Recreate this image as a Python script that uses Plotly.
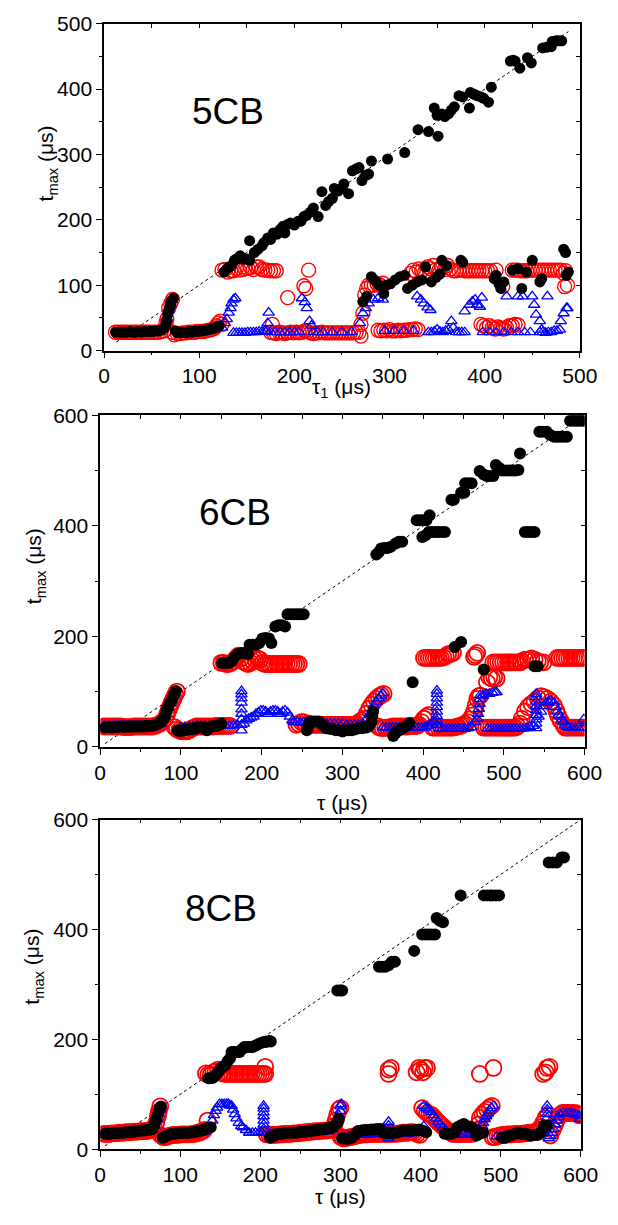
import plotly.graph_objects as go

# ---------------- DATA ----------------
# Panel 1: 5CB  (tau_1 [us], t_max [us])
black_5cb = [
    (12,28),(15,28),(18,28),(21,28),(24,28),(27,29),(30,28),(33,28),(36,29),(39,28),(42,29),(45,29),(48,29),(51,29),(54,30),(57,30),(60,31),(63,34),
    (65,40),(66,46),(67,55),(68,62),(69,66),(70,72),(71,76),(73,80),
    (75,30),(77,27),(80,28),(83,28),(86,27),(89,29),(92,28),(95,30),(98,29),(101,30),(104,30),(107,31),(110,32),(113,33),(116,34),(119,36),(121,38),
    (126,120),(129,125),(132,128),(134,130),(137,138),(139,140),(143,145),(146,140),(150,140),(153,138),(153,168),(158,150),(162,155),(166,160),(168,165),
    (172,172),(175,170),(178,180),(182,178),(185,185),(188,190),(190,180),(193,193),(196,195),(200,192),(204,198),(207,198),(210,205),(213,207),(217,212),
    (220,218),(225,205),(229,243),(233,222),(236,228),(240,233),(242,248),(246,244),(250,248),(252,255),(257,240),(261,275),(265,278),(268,280),(271,260),
    (275,268),(278,270),(281,290),(298,293),(316,303),(330,338),(341,335),(347,371),(350,360),(351,328),(355,362),(358,358),(362,362),(365,368),(368,373),
    (373,390),(377,388),(384,371),(385,395),(389,392),(392,390),(396,388),(399,386),(404,380),(407,403),(427,443),(430,444),(432,443),(437,432),(445,448),
    (449,440),(461,463),(465,464),(470,465),(471,473),(475,474),(478,474),(481,474),
    (272,75),(276,83),(281,113),(284,108),(286,105),(289,100),(294,87),(297,100),(301,102),(306,108),(311,113),(316,115),(319,95),(324,100),(329,105),
    (334,108),(338,128),(344,105),(349,112),(353,117),(355,138),(360,130),(375,138),(377,135),(410,110),(412,115),(415,102),(417,95),(420,105),(429,123),
    (435,125),(439,95),(444,120),(450,138),(458,105),(460,110),(483,155),(485,150),(486,115),(488,120),
]
red_5cb = [
    (12,28),(15,28),(18,28),(21,28),(24,28),(27,28),(30,28),(33,28),(36,28),(39,28),(42,28),(45,28),(48,28),(51,28),(54,28),(57,28),(60,29),(63,30),
    (65,42),(66,48),(68,65),(70,72),(72,78),
    (72,28),(74,24),(77,26),(80,26),(83,27),(86,27),(89,28),(92,28),(95,28),(98,29),(101,29),(104,29),(107,30),(110,31),(113,32),(116,34),(118,38),(120,42),(122,45),(124,40),
    (124,123),(127,124),(130,120),(133,122),(136,122),(139,125),(142,123),(145,124),(148,125),(151,126),(154,127),(157,124),(160,128),(163,128),(166,124),
    (169,123),(172,123),(175,122),(178,122),(181,122),
    (177,40),(193,81),(210,99),(212,95),(215,123),
    (175,28),(178,27),(181,26),(184,28),(187,27),(190,26),(193,27),(196,28),(199,27),(202,28),(205,27),(208,28),(211,30),(214,29),(217,27),(220,26),
    (223,27),(226,27),(229,28),(232,27),(235,27),(238,27),(241,27),(244,27),(247,27),(250,27),(253,27),(256,27),(259,27),(262,27),(265,28),(268,28),(270,22),
    (270,40),(272,57),(274,85),(276,95),(278,100),(281,100),(284,100),(287,102),(290,100),(293,103),
    (288,31),(291,30),(294,31),(297,30),(300,32),(303,30),(306,30),(309,31),(312,30),(315,31),(318,31),(321,32),(324,32),(327,33),(330,32),
    (322,118),(325,123),(328,120),(331,125),(334,122),(337,120),(340,128),(343,125),(346,130),(349,124),(352,123),(355,128),(358,124),(361,130),(364,125),
    (367,122),(370,122),(373,123),(376,123),(379,122),(382,122),(385,122),(388,122),(391,122),(394,122),(397,122),(400,122),(403,122),(406,122),
    (412,123),(419,98),
    (396,40),(399,38),(402,35),(405,38),(408,35),(411,33),(414,36),(417,34),(420,33),(423,35),(426,38),(429,38),(432,40),(435,39),
    (429,123),(432,123),(435,123),(438,122),(441,122),(444,122),(447,123),(450,123),(453,123),(456,123),(459,123),(462,123),(465,123),(468,123),(471,123),
    (474,123),(477,123),(480,123),(483,118),(485,122),(484,98),(487,100),
]
blue_5cb = [
    (64,40),(66,50),(68,62),(70,70),
    (124,35),(127,42),(129,48),(131,58),(133,65),(134,72),(136,78),(138,80),
    (136,27),(139,27),(142,27),(145,27),(148,27),(151,28),(154,28),(157,28),(160,28),(163,29),(166,29),(169,30),(171,30),(173,58),(172,42),
    (175,28),(180,28),(185,28),(190,28),(195,28),(200,28),(205,28),(208,80),(211,74),(213,65),(216,45),(218,38),(220,28),(225,28),(230,28),(240,28),(250,28),(260,28),
    (269,42),(272,57),(275,65),(278,72),(283,78),(288,80),(293,78),
    (295,30),(305,30),(315,30),(325,30),
    (329,83),(333,78),(336,72),(340,66),(343,62),
    (341,28),(344,28),(347,29),(350,32),(353,29),(356,28),(359,30),(362,32),(365,45),(367,35),(370,28),(373,28),(376,28),(379,28),
    (379,60),(384,70),(387,75),(392,70),(395,67),(397,81),(390,78),
    (398,28),(405,28),(412,28),(420,28),(428,28),(435,28),(442,28),(448,28),
    (423,83),(435,83),(440,83),(450,83),(452,70),(454,55),(458,45),(460,32),(466,83),
    (458,28),(461,28),(464,27),(467,28),(470,28),(473,30),(476,30),(479,32),
    (480,45),(483,57),(486,65),(487,65),
]

# Panel 2: 6CB
black_6cb = [
    (6,35),(9,36),(12,36),(15,35),(18,36),(21,36),(24,37),(27,37),(30,36),(33,37),(36,37),(39,37),(42,37),(45,37),(48,37),(51,37),(54,37),(57,38),(60,38),
    (63,38),(66,39),(69,40),(72,42),(75,45),
    (78,50),(80,55),(82,65),(84,72),(86,78),(88,83),(90,90),(92,96),(94,101),
    (96,30),(99,28),(102,30),(105,30),(108,31),(111,32),(114,32),(117,33),(120,35),(123,35),(126,36),(129,35),(132,30),(135,35),(138,37),(141,38),(144,38),(147,40),(150,42),
    (151,152),(155,152),(159,152),(163,155),(167,163),(171,168),(175,170),(179,170),(183,168),(185,185),(189,185),(193,185),(197,188),(201,196),(205,197),
    (209,196),(212,188),(217,218),(221,220),(225,220),(229,218),(232,240),(236,240),(240,240),(244,240),(248,240),(252,240),
    (342,348),(345,352),(348,359),(352,360),(356,360),(360,362),(366,368),(370,371),(374,371),(392,410),(396,410),(400,410),(404,410),(408,419),(399,380),
    (403,383),(407,389),(411,389),(415,389),(419,389),(423,389),(427,389),(435,447),(438,447),(447,460),(451,460),(452,477),(456,477),(460,477),(470,499),
    (475,493),(479,490),(483,490),(487,490),(490,510),(494,505),(498,500),(502,500),(506,500),(510,500),(514,500),(518,501),(520,531),(526,389),(530,389),
    (534,389),(538,389),(544,570),(548,570),(553,570),(557,565),(562,561),(566,561),(570,561),(574,561),(578,561),(582,590),(586,590),(590,590),(594,590),(598,590),
    (387,117),(475,140),(538,146),(542,146),(439,181),(447,190),
    (256,30),(258,38),(260,46),(264,46),(268,46),(271,46),(275,40),(280,34),(284,33),(288,32),(292,30),(296,30),(300,28),(304,30),(308,30),(312,30),(316,32),
    (320,34),(324,34),(327,35),(330,35),(333,38),(336,45),(337,56),(338,64),
    (363,20),(366,25),(370,30),(375,34),(379,38),(383,43),
]
red_6cb = [
    (5,37),(8,37),(11,37),(14,37),(17,37),(20,37),(23,37),(26,37),(29,36),(32,36),(35,36),(38,36),(41,37),(44,37),(47,37),(50,37),(53,37),(56,37),(59,37),
    (62,37),(65,37),(68,38),(71,40),(74,42),(77,45),
    (80,50),(83,60),(85,68),(87,75),(89,82),(91,88),(93,95),(95,100),
    (92,36),(95,32),(98,30),(101,28),(104,28),(107,28),(110,30),(113,33),(116,35),(119,37),(122,37),(125,37),(128,37),(131,37),(134,37),(137,37),(140,37),
    (143,38),(146,38),(149,38),(152,38),(155,38),(158,38),(161,38),
    (150,152),(153,152),(156,150),(159,150),(162,152),(165,155),(168,160),(171,165),(174,160),(177,155),(180,152),(183,150),(186,152),(189,155),(192,158),
    (195,160),(198,158),(201,152),(204,150),(207,150),(210,150),(213,150),(216,150),(219,150),(222,150),(225,150),(228,150),(231,150),(234,150),(237,150),
    (240,150),(243,150),(246,150),
    (243,40),(246,42),(249,45),(252,45),(255,40),(258,42),(261,40),(264,40),(267,40),(270,40),(273,40),(276,40),(279,40),(282,40),(285,40),(288,40),(291,40),
    (294,40),(297,40),(300,40),(303,40),(306,40),(309,40),(312,40),(315,40),(318,42),(321,45),(324,48),
    (327,51),(330,60),(333,69),(336,76),(339,82),(342,87),(345,91),(348,94),(351,96),
    (344,37),(347,35),(350,34),(353,35),(356,35),(359,36),(362,37),(365,37),(368,37),(371,37),(374,37),(377,37),(380,37),(383,38),(386,38),(389,38),(392,38),
    (395,40),(398,45),(401,51),(404,55),(407,58),
    (401,161),(404,161),(407,161),(410,161),(413,161),(416,161),(419,161),(422,161),(425,162),(428,164),(431,168),(434,168),(437,170),
    (412,35),(415,35),(419,35),(422,35),(425,35),(428,35),(431,35),(434,35),(437,35),(440,36),(443,37),(446,38),(449,40),(452,42),(455,45),(458,50),
    (461,57),(463,64),(465,75),(467,87),(469,92),(471,93),
    (463,163),(465,166),(467,170),
    (479,117),(482,126),(485,124),(488,126),(491,124),
    (487,153),(490,153),(493,153),(496,153),(499,153),(502,153),(505,153),(508,153),(511,153),(514,153),(517,153),(520,153),(522,155),(526,158),(530,158),
    (534,160),(538,158),(542,155),(545,153),(549,153),
    (475,35),(478,35),(481,35),(484,35),(487,35),(490,35),(493,35),(496,35),(499,35),(502,35),(505,35),(508,35),(511,35),(514,35),(517,37),(520,42),(522,51),
    (526,64),(530,72),(534,78),(538,82),
    (542,88),(546,92),(550,90),(554,87),(558,82),(562,75),(565,65),(567,57),(570,48),(574,39),
    (576,35),(579,35),(582,35),(585,35),(588,35),(591,35),(594,35),(597,35),(600,35),
    (566,161),(569,161),(572,161),(575,161),(578,161),(581,161),(584,161),(587,161),(590,161),(593,161),(596,161),(599,161),
]
blue_6cb = [
    (5,38),(10,38),(15,38),(20,38),(25,38),(30,38),(35,38),(40,38),(45,38),(50,38),(55,38),(60,38),(65,38),(70,40),(75,42),(80,55),(84,70),(88,82),(92,95),
    (100,35),(105,36),(110,36),(115,37),(120,38),(125,38),(130,38),(135,38),(140,38),(145,38),(150,38),(155,38),(160,38),(165,39),(170,40),
    (175,30),(175,40),(175,50),(175,60),(175,68),(175,80),(175,88),(175,95),(175,101),
    (178,42),(181,48),(184,51),(187,53),(190,55),(193,60),(196,62),(199,66),(202,66),(205,64),(208,60),(211,64),(214,66),(217,66),(220,64),(223,60),(226,64),
    (229,66),(232,62),(235,55),(238,48),
    (240,45),(244,45),(248,44),(252,44),(256,43),(260,43),(265,42),(270,42),(275,42),(280,42),(285,42),(290,42),(295,42),(300,42),(305,40),(310,40),(315,40),
    (320,40),(325,42),(330,50),
    (334,60),(337,68),(339,75),(342,82),(345,88),(348,93),(350,97),
    (350,35),(354,35),(358,35),(362,35),(366,35),(370,35),(374,35),(378,35),(382,35),(386,35),(390,35),(394,35),(398,35),(402,35),(406,38),(410,42),(413,45),
    (417,40),(417,48),(417,56),(417,64),(417,72),(417,80),(417,88),(417,96),(417,102),
    (420,33),(424,33),(428,33),(432,33),(436,33),(440,33),(444,33),(448,33),(452,33),(456,34),(460,36),(464,45),(467,51),(468,60),(469,69),(470,78),(470,87),(471,94),
    (474,93),(478,96),(482,96),(486,98),(489,99),(491,99),
    (480,33),(484,33),(488,33),(492,33),(496,33),(500,33),(504,33),(508,33),(512,33),(516,33),(520,33),(524,33),(528,34),(532,36),(536,38),
    (540,34),(540,42),(540,50),(540,58),(540,66),(540,74),(540,82),(540,90),(540,96),
    (543,55),(546,64),(549,74),(552,80),(555,82),(558,84),(562,80),(564,72),(566,64),(568,58),(570,55),(572,50),(574,46),(576,40),(578,37),
    (580,35),(584,35),(588,35),(592,35),(596,35),(599,35),(599,50),
]

# Panel 3: 8CB
black_8cb = [
    (6,28),(9,28),(12,28),(15,29),(18,29),(21,29),(24,30),(27,30),(30,30),(33,31),(36,31),(39,32),(42,32),(45,33),(48,33),(51,34),(54,34),(57,35),(60,35),(63,36),(65,37),
    (68,46),(70,55),(72,64),(74,75),(76,78),
    (78,21),(81,23),(84,25),(87,27),(90,28),(93,28),(96,29),(99,29),(102,30),(105,30),(108,30),(111,30),(114,31),(117,31),(120,32),(123,33),(126,34),(129,35),
    (132,37),(135,39),(138,40),
    (135,129),(138,129),(141,130),(144,135),(147,140),(150,146),(153,150),(156,153),(159,160),(162,165),(164,177),(167,177),(170,177),(174,177),(177,182),
    (180,186),(184,186),(187,186),(190,186),(193,188),(196,190),(200,193),(204,195),(207,195),(211,197),(213,196),
    (212,21),(215,23),(218,25),(221,27),(224,28),(227,28),(230,29),(233,29),(236,30),(239,30),(242,30),(245,30),(248,31),(251,31),(254,32),(257,32),(260,33),
    (263,33),(266,34),(269,34),(272,35),(275,36),(278,36),(281,37),(284,38),(287,39),(290,40),(293,43),(296,48),(298,55),
    (296,289),(300,289),(302,289),
    (302,20),(306,19),(310,19),(314,21),(318,26),(322,33),(326,34),(330,35),(334,35),(338,36),(342,36),(346,37),(350,37),(354,30),(358,29),(362,29),(366,30),
    (370,30),(374,32),(378,34),(382,34),(386,34),(390,34),(394,35),(398,36),(402,34),(407,31),
    (348,332),(352,332),(356,332),(360,335),(364,341),(368,341),(392,361),(402,391),(406,391),(410,391),(414,391),(418,391),(420,421),(424,416),(428,413),
    (450,462),(479,462),(483,462),(487,462),(490,462),(494,462),(498,462),(560,522),(565,522),(570,522),(576,531),(579,531),
    (430,28),(434,28),(438,28),(442,30),(446,40),(450,43),(454,46),(458,42),(462,41),(466,38),(470,34),(470,25),(474,28),(478,30),
    (502,21),(506,21),(510,24),(514,26),(518,28),(522,30),(526,28),(530,28),(534,27),(538,25),(542,26),(546,26),(550,30),(554,43),(558,43),
]
red_8cb = [
    (5,28),(8,28),(11,28),(14,29),(17,29),(20,29),(23,30),(26,30),(29,30),(32,31),(35,31),(38,31),(41,32),(44,32),(47,32),(50,33),(53,33),(56,33),(59,34),
    (62,34),(65,35),(67,40),
    (70,48),(72,60),(73,68),(75,78),
    (76,25),(79,22),(82,22),(85,24),(88,25),(91,26),(94,26),(97,26),(100,27),(103,27),(106,27),(109,27),(112,27),(115,28),(118,28),(121,30),(124,30),(127,33),
    (130,35),(134,52),
    (132,138),(135,136),(138,136),(141,140),(144,142),(147,145),(150,140),(153,138),(156,137),(159,137),(162,137),(165,137),(168,137),(171,137),(174,137),
    (177,137),(180,137),(183,137),(186,137),(189,137),(192,137),(195,137),(198,137),(201,137),(204,137),(206,137),(206,150),
    (208,27),(211,27),(214,26),(217,26),(220,26),(223,27),(226,27),(229,28),(232,28),(235,28),(238,28),(241,29),(244,29),(247,29),(250,30),(253,30),(256,31),
    (259,31),(262,32),(265,32),(268,33),(271,33),(274,33),(277,34),(280,34),(283,34),(286,35),(289,36),(292,42),(294,52),(296,63),(298,72),(300,75),
    (300,23),(303,20),(306,20),(309,21),(312,22),(315,23),(318,24),(321,25),(324,26),(327,27),(330,27),(333,27),(336,28),(339,28),(342,28),(345,28),(348,28),
    (351,28),(354,28),(357,28),(360,28),(363,28),(366,28),(369,28),(372,29),(375,29),(378,30),(381,30),(384,30),(387,31),(390,31),(393,30),(396,28),(399,26),
    (360,137),(360,145),(363,148),
    (395,140),(398,148),(400,145),(403,140),(405,148),(408,148),
    (402,75),(405,70),(408,66),(411,64),(414,62),(417,57),(420,52),(423,48),(426,44),(429,40),(432,36),(435,33),(438,30),
    (440,28),(443,28),(446,28),(449,28),(452,28),(455,28),(458,28),(461,28),(464,28),(467,30),(470,35),(472,45),(474,57),(477,63),(480,68),(483,72),(486,76),(489,79),
    (474,137),(491,148),
    (490,22),(493,22),(496,24),(499,25),(502,26),(505,26),(508,27),(511,27),(514,27),(517,28),(520,28),(523,28),(526,28),(529,29),(532,29),(535,30),(538,30),
    (541,31),(544,32),(547,35),(550,40),(553,48),(556,57),(559,62),
    (553,137),(556,140),(558,148),(561,150),
    (562,25),(565,35),(568,45),(571,55),(574,62),(577,66),(580,66),(583,66),(586,66),(589,66),(592,66),(595,65),(598,62),(600,62),
]
blue_8cb = [
    (5,30),(10,30),(15,30),(20,30),(25,31),(30,31),(35,32),(40,32),(45,33),(50,33),(55,34),(60,35),(65,36),(68,42),(71,55),(73,65),(75,72),
    (80,25),(85,26),(90,26),(95,27),(100,27),(105,28),(110,28),(115,28),(120,29),(125,30),(130,32),(135,38),
    (140,52),(142,62),(144,70),(146,76),(149,82),(152,82),(155,82),(158,82),(160,82),(162,80),(164,79),(166,72),(168,64),(170,56),(173,48),(176,42),(178,40),(182,35),
    (186,30),(190,30),(194,30),(198,30),(202,30),
    (204,37),(204,45),(204,52),(204,60),(204,67),(204,74),(204,79),
    (208,30),(212,28),(216,28),(220,28),(225,28),(230,28),(235,29),(240,29),(245,29),(250,30),(255,30),(260,30),(265,31),(270,31),(275,32),(280,32),(285,33),
    (290,36),(293,45),
    (296,55),(298,62),(300,70),(300,78),(301,82),
    (305,22),(310,23),(315,24),(320,26),(325,27),(330,27),(335,27),(340,27),(345,28),(350,28),(355,28),
    (360,20),(360,28),(360,36),(360,43),(360,50),
    (365,28),(370,28),(375,28),(380,28),(385,29),(390,29),(395,30),(400,30),(404,34),(404,42),
    (404,79),(407,75),(410,72),(413,68),(416,62),(419,56),(422,50),(425,45),(428,40),(431,35),(434,30),
    (438,27),(442,27),(446,26),(450,26),(454,26),(458,26),(462,26),(466,27),(470,28),(474,35),
    (477,42),(478,48),(480,55),(482,60),(484,65),(486,70),(488,75),(491,79),
    (495,23),(500,23),(505,24),(510,25),(515,25),(520,26),(525,26),(530,26),(535,27),(540,27),(545,28),(550,30),(555,35),
    (558,57),(558,64),(558,72),(558,79),
    (560,20),(562,24),(564,30),(566,37),(568,45),(570,52),(572,58),(574,64),(578,66),(582,66),(586,66),(590,65),(594,63),(598,61),(599,55),
]

# y = x guide lines (start, end)
guide_5cb = [13, 488]
guide_6cb = [6, 600]
guide_8cb = [6, 600]

panel_labels = ["5CB", "6CB", "8CB"]
x_titles = ["\u03c4<sub>1</sub> (\u03bcs)", "\u03c4 (\u03bcs)", "\u03c4 (\u03bcs)"]
y_title = "t<sub>max</sub> (\u03bcs)"
axis_max = [500, 600, 600]
y_major = [100, 200, 200]
y_minor = [50, 100, 100]

# ---------------- LAYOUT ----------------
W, H = 618, 1225
FONT = "Liberation Sans, Arial, sans-serif"
boxes = [(102, 597, 12, 345), (98, 602, 411, 749), (98, 598, 823, 1159)]
label_pos = [(231, 101), (238, 510), (224, 914)]
ytitle_pos = [(43, 154), (31, 565), (28, 973)]
xtitle_y = [383, 806, 1207]

fig = go.Figure()
series = [
    (black_5cb, red_5cb, blue_5cb, guide_5cb),
    (black_6cb, red_6cb, blue_6cb, guide_6cb),
    (black_8cb, red_8cb, blue_8cb, guide_8cb),
]
red_size = [14, 16, 16]
red_lw = [1.4, 1.8, 1.8]
black_size = [11, 12, 12]
blue_size = [10, 10, 10]

for i, (blk, red, blu, guide) in enumerate(series):
    n = i + 1
    xa, ya = f"x{n}", f"y{n}"
    fig.add_trace(go.Scatter(x=guide, y=guide, mode="lines", xaxis=xa, yaxis=ya,
                             line=dict(color="black", width=1, dash="3px,3px"), hoverinfo="skip"))
    fig.add_trace(go.Scatter(x=[p[0] for p in red], y=[p[1] for p in red], mode="markers", xaxis=xa, yaxis=ya,
                             marker=dict(symbol="circle-open", size=red_size[i], color="#ff0000",
                                         line=dict(width=red_lw[i]))))
    fig.add_trace(go.Scatter(x=[p[0] for p in blu], y=[p[1] for p in blu], mode="markers", xaxis=xa, yaxis=ya,
                             marker=dict(symbol="triangle-up-open", size=blue_size[i], color="#0000ff",
                                         line=dict(width=1.3))))
    fig.add_trace(go.Scatter(x=[p[0] for p in blk], y=[p[1] for p in blk], mode="markers", xaxis=xa, yaxis=ya,
                             marker=dict(symbol="circle", size=black_size[i], color="black")))
    # invisible trace for inside mirror-tick axes
    fig.add_trace(go.Scatter(x=[None], y=[None], mode="markers", xaxis=f"x{n+3}", yaxis=f"y{n+3}",
                             hoverinfo="skip", showlegend=False))

layout = dict(width=W, height=H, margin=dict(l=0, r=0, t=0, b=0), showlegend=False,
              plot_bgcolor="white", paper_bgcolor="white", font=dict(family=FONT, color="black"))
annotations = []
for i, (x0, x1, y0, y1) in enumerate(boxes):
    n = i + 1
    xd = [x0 / W, x1 / W]
    yd = [1 - y1 / H, 1 - y0 / H]
    rng = [0, axis_max[i]]
    common = dict(showgrid=False, zeroline=False, showline=True, linecolor="black", linewidth=1.5,
                  ticks="outside", ticklen=6, tickwidth=1.2, tickcolor="black",
                  tickfont=dict(family=FONT, size=21, color="black"), range=rng)
    layout[f"xaxis{n}"] = dict(domain=xd, anchor=f"y{n}", dtick=100, tick0=0,
                               minor=dict(dtick=50, ticks="outside", ticklen=3, tickcolor="black", tickwidth=1.2),
                               **common)
    layout[f"yaxis{n}"] = dict(domain=yd, anchor=f"x{n}", dtick=y_major[i], tick0=0,
                               minor=dict(dtick=y_minor[i], ticks="outside", ticklen=3, tickcolor="black", tickwidth=1.2),
                               **common)
    layout[f"xaxis{n+3}"] = dict(overlaying=f"x{n}", anchor=f"y{n}", side="top", range=rng, showgrid=False,
                                 zeroline=False, showline=True, linecolor="black", linewidth=1.5,
                                 ticks="inside", ticklen=4, dtick=50, tick0=0, tickcolor="black",
                                 showticklabels=False)
    layout[f"yaxis{n+3}"] = dict(overlaying=f"y{n}", anchor=f"x{n}", side="right", range=rng, showgrid=False,
                                 zeroline=False, showline=True, linecolor="black", linewidth=1.5,
                                 ticks="inside", ticklen=4, dtick=y_minor[i], tick0=0, tickcolor="black",
                                 showticklabels=False)
    lx, ly = label_pos[i]
    annotations.append(dict(text=panel_labels[i], x=lx / W, y=1 - ly / H, xref="paper", yref="paper",
                            showarrow=False, xanchor="center", yanchor="middle",
                            font=dict(family=FONT, size=37, color="black")))
    tx, ty = ytitle_pos[i]
    annotations.append(dict(text=y_title, x=tx / W, y=1 - ty / H, xref="paper", yref="paper",
                            showarrow=False, textangle=-90, xanchor="center", yanchor="middle",
                            font=dict(family=FONT, size=21, color="black")))
    annotations.append(dict(text=x_titles[i], x=(x0 + x1) / 2 / W, y=1 - xtitle_y[i] / H, xref="paper", yref="paper",
                            showarrow=False, xanchor="center", yanchor="middle",
                            font=dict(family=FONT, size=21, color="black")))
layout["annotations"] = annotations
fig.update_layout(**layout)
fig.write_html("out.html")
